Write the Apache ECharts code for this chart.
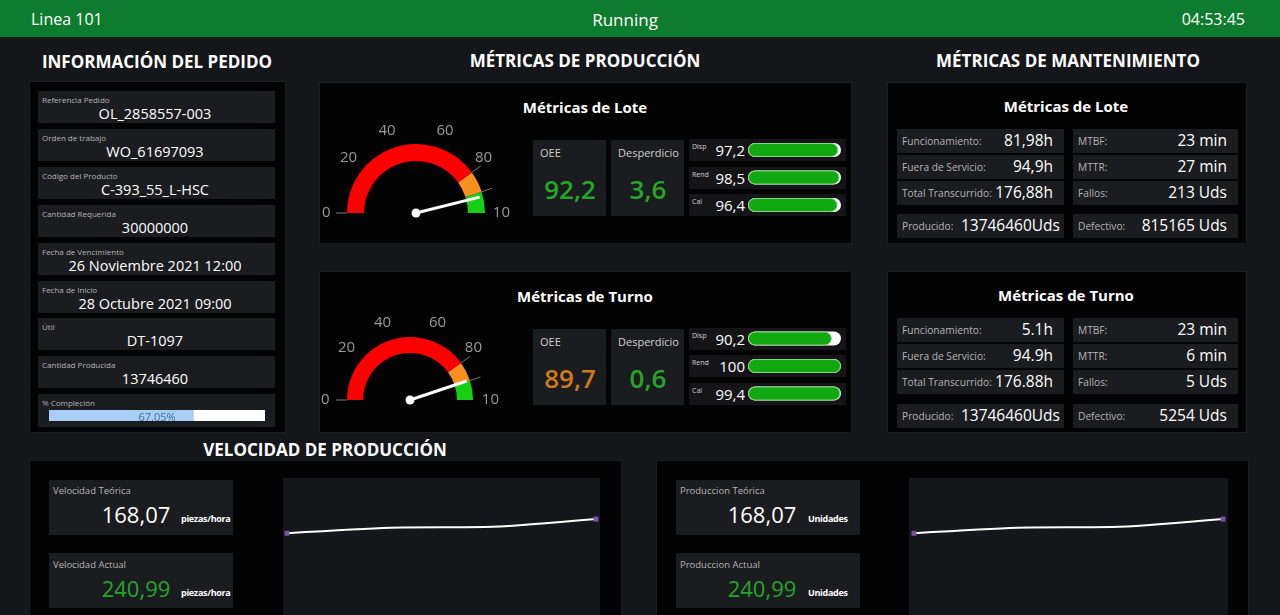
<!DOCTYPE html>
<html><head><meta charset="utf-8">
<script src="https://cdn.jsdelivr.net/npm/echarts@6/dist/echarts.min.js"></script>
<style>
html,body{margin:0;padding:0}
body{width:1280px;height:615px;overflow:hidden;background:#15161a;font-family:'Open Sans',sans-serif;color:#fff;position:relative}
#ui{position:absolute;left:0;top:0;width:1280px;height:615px}
#chart{position:absolute;left:0;top:0;width:1280px;height:615px}
</style></head><body>
<div id="ui"></div>
<div id="chart"></div>
<script>
// ---------- data ----------
const lineName = 'Linea 101';
const lineState = 'Running';
const clockText = '04:53:45';
const orderFields = ['Referencia Pedido','Orden de trabajo','Código del Producto','Cantidad Requerida','Fecha de Vencimiento','Fecha de Inicio','Útil','Cantidad Producida'];
const orderValues = ['OL_2858557-003','WO_61697093','C-393_55_L-HSC','30000000','26 Noviembre 2021 12:00','28 Octubre 2021 09:00','DT-1097','13746460'];
const completionLabel = '% Compleción';
const completionPct = [67.05];
const gaugeTickLabels = ['0','20','40','60','80','10'];
const batchOEE = [92.2];
const shiftOEE = [89.7];
const batchWaste = 3.6;
const shiftWaste = 0.6;
const factorNames = ['Disp','Rend','Cal'];
const batchFactors = [97.2, 98.5, 96.4];
const shiftFactors = [90.2, 100, 99.4];
const maintLabelsL = ['Funcionamiento:','Fuera de Servicio:','Total Transcurrido:','Producido:'];
const maintLabelsR = ['MTBF:','MTTR:','Fallos:','Defectivo:'];
const batchMaintL = ['81,98h','94,9h','176,88h','13746460Uds'];
const batchMaintR = ['23 min','27 min','213 Uds','815165 Uds'];
const shiftMaintL = ['5.1h','94.9h','176.88h','13746460Uds'];
const shiftMaintR = ['23 min','6 min','5 Uds','5254 Uds'];
const speedTheoretical = '168,07';
const speedActual = '240,99';
const sampleLabels = ['1','2','3','4'];
const speedHistory = [179, 191, 193, 210];
const outputHistory = [179, 191, 193, 210];

// ---------- layout helpers ----------
const root = document.getElementById('ui');
function box(x,y,w,h,bg,extra){const d=document.createElement('div');d.style.cssText=`position:absolute;left:${x}px;top:${y}px;width:${w}px;height:${h}px;background:${bg};${extra||''}`;root.appendChild(d);return d;}
function txt(x,y,s,size,opt){opt=opt||{};const a=opt.align||'left';const tx=a==='center'?'-50%':a==='right'?'-100%':'0';const d=document.createElement('div');d.style.cssText=`position:absolute;left:${x}px;top:${y}px;transform:translate(${tx},-50%);white-space:nowrap;font-size:${size}px;line-height:1;color:${opt.color||'#fff'};font-weight:${opt.weight||400};${opt.extra||''}`;d.textContent=s;root.appendChild(d);return d;}
const fmt = v => String(v).replace('.',',');
const PANEL='#030303', CELL='#1b1c1f', GREEN='#26a626', ORANGE='#cf7a1c', LBL='#b5b5b5';
const pshadow='box-shadow:0 0 0 1px #1d1e22;';

// top bar
box(0,0,1280,37,'#0e7c2e');
txt(31,19,lineName,16);
txt(625,19,lineState,17,{align:'center'});
txt(1245,19,clockText,16,{align:'right'});

// headings
txt(157,61,'INFORMACIÓN DEL PEDIDO',17,{align:'center',weight:700});
txt(585,60,'MÉTRICAS DE PRODUCCIÓN',17,{align:'center',weight:700});
txt(1068,60,'MÉTRICAS DE MANTENIMIENTO',17,{align:'center',weight:700});
txt(325,449,'VELOCIDAD DE PRODUCCIÓN',17,{align:'center',weight:700});

// order panel
box(30,82,255,350,PANEL,pshadow);
orderFields.forEach((f,i)=>{
  const y=91+i*37.9;
  box(38,y,237,32,CELL);
  txt(42,y+9,f,8,{color:LBL});
  txt(155,y+23,orderValues[i],14.5,{align:'center'});
});
{
  const y=91+8*37.9;
  box(38,y,237,33,CELL);
  txt(42,y+9,completionLabel,8,{color:LBL});
  txt(157,415.5,completionPct[0].toFixed(2)+'%',11,{align:'center',color:'#3c6e9e',extra:'z-index:5;'});
}

// production panels
function prodPanel(top, oee, oeeColor, waste){
  box(320,top,531,160,PANEL,pshadow);
  txt(585,top+24,top<200?'Métricas de Lote':'Métricas de Turno',15,{align:'center',weight:700});
  box(533,top+57,73,76,CELL);
  txt(540,top+69,'OEE',11,{color:'#d0d0d0'});
  txt(570,top+106,fmt(oee),26,{align:'center',color:oeeColor,weight:600});
  box(611,top+57,73,76,CELL);
  txt(618,top+69,'Desperdicio',11,{color:'#d0d0d0'});
  txt(648,top+106,fmt(waste),26,{align:'center',color:GREEN,weight:600});
}
prodPanel(83, batchOEE[0], GREEN, batchWaste);
prodPanel(272, shiftOEE[0], ORANGE, shiftWaste);
function factorRows(top, vals){
  factorNames.forEach((n,i)=>{
    const y=top+i*27.5;
    box(689,y,157,22,'#151518');
    txt(692,y+7,n,7,{color:'#d0d0d0'});
    txt(745,y+11,fmt(vals[i]),15,{align:'right'});
  });
}
factorRows(139, batchFactors);
factorRows(327.5, shiftFactors);

// maintenance panels
function maintPanel(top, title, rowsTop, valsL, valsR){
  box(888,top,358,160,PANEL,pshadow);
  txt(1066,top+23,title,15,{align:'center',weight:700});
  rowsTop.forEach((ry,i)=>{
    box(897,ry,167,24,CELL);
    box(1073,ry,165,24,CELL);
    txt(902,ry+12,maintLabelsL[i],10.2,{color:LBL});
    txt(i===3?1060:1053,ry+12,valsL[i],15.5,{align:'right'});
    txt(1078,ry+12,maintLabelsR[i],10.2,{color:LBL});
    txt(1227,ry+12,valsR[i],15.5,{align:'right'});
  });
}
maintPanel(83,'Métricas de Lote',[129,155,181,214],batchMaintL,batchMaintR);
maintPanel(272,'Métricas de Turno',[318,344,370,404],shiftMaintL,shiftMaintR);

// bottom panels
function kpiPanel(x, kx, labels, unit, valX, unitX){
  box(x,461,591,160,PANEL,pshadow);
  box(kx,480,184,55,CELL);
  box(kx,553,184,55,CELL);
  txt(kx+4,491,labels[0],9.5,{color:LBL});
  txt(valX,514,speedTheoretical,22,{align:'center'});
  txt(unitX,518,unit,9,{weight:700,extra:'letter-spacing:-0.3px;'});
  txt(kx+4,565,labels[1],9.5,{color:LBL});
  txt(valX,588,speedActual,22,{align:'center',color:GREEN});
  txt(unitX,592,unit,9,{weight:700,extra:'letter-spacing:-0.3px;'});
}
kpiPanel(30,49,['Velocidad Teórica','Velocidad Actual'],'piezas/hora',136,181);
kpiPanel(657,676,['Produccion Teórica','Produccion Actual'],'Unidades',762,808);
box(283,478,317,150,'#14161a');
box(909,478,319,150,'#14161a');

// ---------- charts ----------
const chart = echarts.init(document.getElementById('chart'));
function gauge(center, radius, width, value, labelDist){
  return [{
    type:'gauge', center:center, radius:radius, startAngle:180, endAngle:0, min:0, max:100, splitNumber:5,
    axisLine:{lineStyle:{width:width, color:[[0.8,'#ff0000'],[0.9,'#f7901e'],[1,'#16d016']]}},
    splitLine:{show:false,length:0,distance:0},
    axisTick:{show:false},
    axisLabel:{distance:labelDist, color:'#9a9a9a', fontSize:15, fontFamily:'Open Sans', formatter:v=>gaugeTickLabels[Math.round(v/20)]},
    pointer:{icon:'rect', length:'95%', width:3, itemStyle:{color:'#ffffff'}},
    anchor:{show:true, size:9, showAbove:true, itemStyle:{color:'#ffffff', borderWidth:0}},
    title:{show:false}, detail:{show:false},
    data:[{value:value}]
  },{
    type:'gauge', center:center, radius:radius, startAngle:180, endAngle:0, min:0, max:100, splitNumber:10,
    axisLine:{show:false, lineStyle:{width:width, color:[[0,'#7a7a7a'],[0.7,'rgba(0,0,0,0)'],[0.9,'#7a7a7a'],[1,'rgba(0,0,0,0)']]}},
    splitLine:{show:true, length:11, distance:-(11+width), lineStyle:{color:'auto', width:1}},
    axisTick:{show:false}, axisLabel:{show:false}, pointer:{show:false}, anchor:{show:false},
    title:{show:false}, detail:{show:false}, data:[{value:0}]
  }];
}
const barCommon = {
  type:'bar', barWidth:14, showBackground:true,
  backgroundStyle:{color:'#ffffff', borderRadius:7},
  itemStyle:{color:'#12a812', borderRadius:7, borderColor:'#86d486', borderWidth:1},
  silent:true
};
function lineSeries(idx, data){
  return {
    type:'line', xAxisIndex:idx, yAxisIndex:idx, smooth:0.25,
    data:data.map((v,i,a)=>({value:v, symbol:(i===0||i===a.length-1)?'rect':'none'})),
    symbolSize:5, itemStyle:{color:'#7b52aa'}, lineStyle:{color:'#ffffff', width:2}, silent:true
  };
}
chart.setOption({
  animation:false,
  grid:[
    {left:748, top:136.25, width:93, height:82.5},
    {left:748, top:324.75, width:93, height:82.5},
    {left:49, top:410, width:216, height:11},
    {left:287, top:478, width:309, height:137},
    {left:914, top:478, width:309, height:137}
  ],
  xAxis:[
    {gridIndex:0,type:'value',min:0,max:100,show:false},
    {gridIndex:1,type:'value',min:0,max:100,show:false},
    {gridIndex:2,type:'value',min:0,max:100,show:false},
    {gridIndex:3,type:'category',data:sampleLabels,boundaryGap:false,show:false},
    {gridIndex:4,type:'category',data:sampleLabels,boundaryGap:false,show:false}
  ],
  yAxis:[
    {gridIndex:0,type:'category',data:factorNames,inverse:true,show:false},
    {gridIndex:1,type:'category',data:factorNames,inverse:true,show:false},
    {gridIndex:2,type:'category',data:[completionLabel],show:false},
    {gridIndex:3,type:'value',min:0,max:300,show:false},
    {gridIndex:4,type:'value',min:0,max:300,show:false}
  ],
  series:[
    ...gauge([416,213],69,17,batchOEE[0],-25),
    ...gauge([410,400],63,16,shiftOEE[0],-26),
    Object.assign({}, barCommon, {xAxisIndex:0, yAxisIndex:0, data:batchFactors}),
    Object.assign({}, barCommon, {xAxisIndex:1, yAxisIndex:1, data:shiftFactors}),
    {type:'bar', xAxisIndex:2, yAxisIndex:2, barWidth:11, showBackground:true, backgroundStyle:{color:'#ffffff'}, itemStyle:{color:'#a8cef5'}, data:completionPct, silent:true},
    lineSeries(3, speedHistory),
    lineSeries(4, outputHistory)
  ]
});
</script>
</body></html>
